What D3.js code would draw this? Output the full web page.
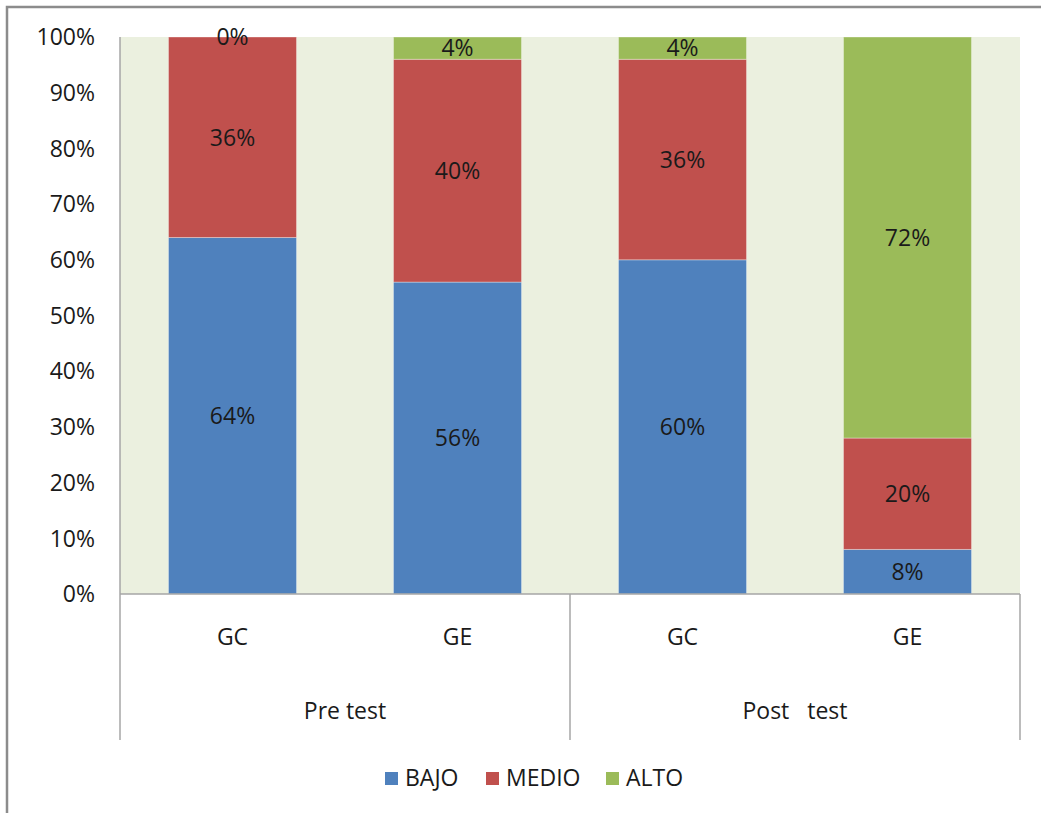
<!DOCTYPE html>
<html>
<head>
<meta charset="utf-8">
<script src="https://cdnjs.cloudflare.com/ajax/libs/d3/7.8.5/d3.min.js"></script>
<style>
  body { margin: 0; background: #fff; }
  text { font-family: "Open Sans", sans-serif; fill: #1a1a1a; font-size: 23px; }
</style>
</head>
<body>
<svg></svg>
<script>
var groups = ["Pre test", "Post   test"];
var categories = ["GC", "GE", "GC", "GE"];
var categoryGroup = [0, 0, 1, 1];
var seriesNames = ["BAJO", "MEDIO", "ALTO"];
var bajo = [64, 56, 60, 8];
var medio = [36, 40, 36, 20];
var alto = [0, 4, 4, 72];
var yTicks = [0, 10, 20, 30, 40, 50, 60, 70, 80, 90, 100];
var colors = ["#4F81BD", "#C0504D", "#9BBB59"];

var width = 1041;
var height = 813;
var plotLeft = 120, plotRight = 1020, plotTop = 37, plotBottom = 594, axisBottom = 740;

var svg = d3.select("svg")
  .attr("width", width)
  .attr("height", height);

// outer frame
svg.append("rect")
  .attr("x", 7).attr("y", 7)
  .attr("width", 1200).attr("height", 1000)
  .attr("fill", "none")
  .attr("stroke", "#8c8c8c")
  .attr("stroke-width", 2.5);

svg.append("rect")
  .attr("x", plotLeft).attr("y", plotTop)
  .attr("width", plotRight - plotLeft).attr("height", plotBottom - plotTop)
  .attr("fill", "#EBF0DF");

var x = d3.scaleBand()
  .domain(d3.range(categories.length))
  .range([plotLeft, plotRight])
  .paddingInner(0.431)
  .paddingOuter(0.2155);

var y = d3.scaleLinear()
  .domain([0, 100])
  .range([plotBottom, plotTop]);

var rows = categories.map(function(c, i) {
  return { i: i, BAJO: bajo[i], MEDIO: medio[i], ALTO: alto[i] };
});

var stacked = d3.stack().keys(seriesNames)(rows);

var layers = svg.selectAll("g.layer")
  .data(stacked)
  .enter()
  .append("g")
  .attr("class", "layer")
  .attr("fill", function(d, i) { return colors[i]; });

layers.selectAll("rect")
  .data(function(d) { return d; })
  .enter()
  .append("rect")
  .attr("x", function(d) { return x(d.data.i); })
  .attr("y", function(d) { return y(d[1]); })
  .attr("width", x.bandwidth())
  .attr("height", function(d) { return y(d[0]) - y(d[1]); })
  .attr("stroke", "rgba(255,255,255,0.35)")
  .attr("stroke-width", 1);

layers.selectAll("text")
  .data(function(d) { return d; })
  .enter()
  .append("text")
  .attr("x", function(d) { return x(d.data.i) + x.bandwidth() / 2; })
  .attr("y", function(d) { return (y(d[0]) + y(d[1])) / 2; })
  .attr("dy", "0.36em")
  .attr("text-anchor", "middle")
  .text(function(d) { return Math.round(d[1] - d[0]) + "%"; });

// y axis labels
svg.selectAll("text.ytick")
  .data(yTicks)
  .enter()
  .append("text")
  .attr("class", "ytick")
  .attr("x", 95)
  .attr("y", function(d) { return y(d); })
  .attr("dy", "0.36em")
  .attr("text-anchor", "end")
  .text(function(d) { return d + "%"; });

// axis lines
var axisColor = "#a6a6a6";
svg.append("line")
  .attr("x1", plotLeft).attr("x2", plotLeft)
  .attr("y1", plotTop).attr("y2", axisBottom)
  .attr("stroke", axisColor).attr("stroke-width", 1.5);
svg.append("line")
  .attr("x1", plotLeft).attr("x2", plotRight)
  .attr("y1", plotBottom).attr("y2", plotBottom)
  .attr("stroke", axisColor).attr("stroke-width", 1.5);

var step = x.step();
var groupEdges = [plotLeft + step * 2, plotRight];
svg.selectAll("line.sep")
  .data(groupEdges)
  .enter()
  .append("line")
  .attr("class", "sep")
  .attr("x1", function(d) { return d; })
  .attr("x2", function(d) { return d; })
  .attr("y1", plotBottom).attr("y2", axisBottom)
  .attr("stroke", axisColor).attr("stroke-width", 1.5);

// category labels
svg.selectAll("text.cat")
  .data(categories)
  .enter()
  .append("text")
  .attr("class", "cat")
  .attr("x", function(d, i) { return x(i) + x.bandwidth() / 2; })
  .attr("y", 645)
  .attr("text-anchor", "middle")
  .text(function(d) { return d; });

svg.selectAll("text.grp")
  .data(groups)
  .enter()
  .append("text")
  .attr("class", "grp")
  .attr("x", function(d, g) {
    var idx = d3.range(categories.length).filter(function(i) { return categoryGroup[i] === g; });
    return (x(idx[0]) + x(idx[idx.length - 1]) + x.bandwidth()) / 2;
  })
  .attr("y", 719)
  .attr("text-anchor", "middle")
  .style("white-space", "pre")
  .text(function(d) { return d; });

// legend
var legendX = [385, 486, 606];
var legend = svg.append("g");
legend.selectAll("rect")
  .data(seriesNames)
  .enter()
  .append("rect")
  .attr("x", function(d, i) { return legendX[i]; })
  .attr("y", 772)
  .attr("width", 13)
  .attr("height", 13)
  .attr("fill", function(d, i) { return colors[i]; });
legend.selectAll("text")
  .data(seriesNames)
  .enter()
  .append("text")
  .attr("x", function(d, i) { return legendX[i] + 20; })
  .attr("y", 786)
  .text(function(d) { return d; });
</script>
</body>
</html>
